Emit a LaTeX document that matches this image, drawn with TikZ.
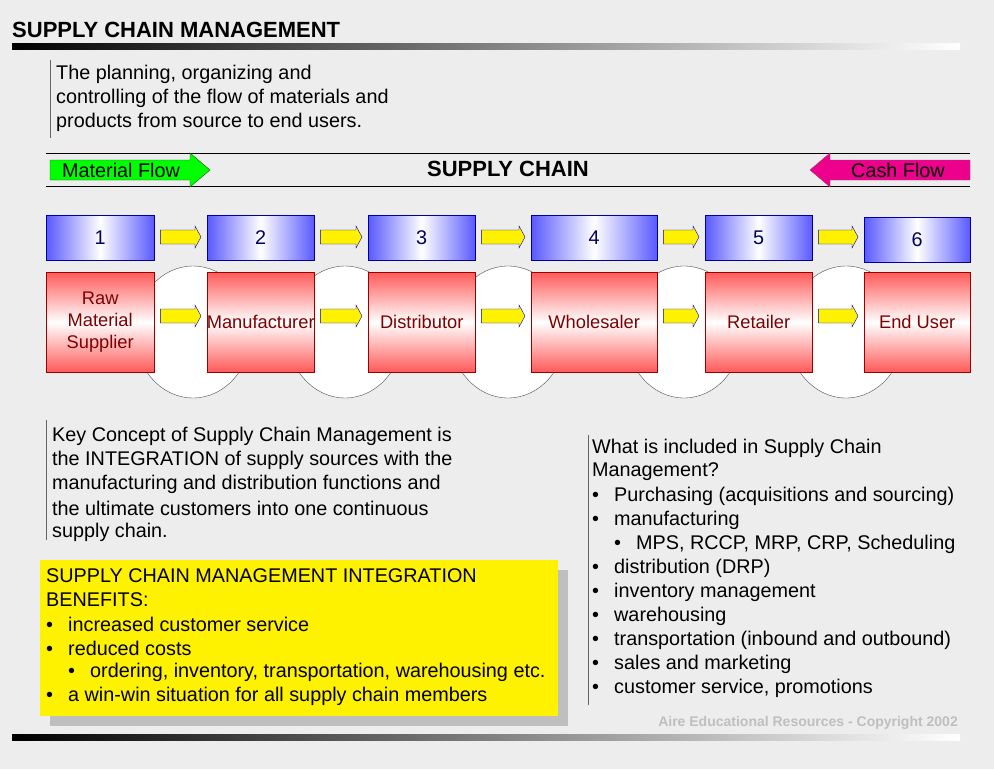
\documentclass[tikz,border=0pt]{standalone}
\usepackage{fontspec}
\setmainfont{Liberation Sans}
\usetikzlibrary{shadings}
\begin{document}
\begin{tikzpicture}[x=1pt,y=-1pt,
 txt/.style={anchor=west,inner sep=0pt,font=\fontsize{19.8}{22}\selectfont},
 blue box/.style={draw=blue!60!black,left color=blue!65,right color=blue!65,middle color=white,font=\fontsize{19.8}{22}\selectfont,text=blue!40!black},
 red box/.style={draw=red!60!black,top color=red!65,bottom color=red!65,middle color=white,font=\fontsize{18.3}{22}\selectfont,text=red!50!black,align=center},
 yarrow/.style={draw=blue!70!black,fill=yellow},
 ring/.style={draw=black!70,fill=white},
 bar/.style={left color=black,right color=white}]
\useasboundingbox (0,0) rectangle (994,769);
\fill[black!7] (0,0) rectangle (994,769);
\node[txt,font=\fontsize{22}{26}\selectfont\bfseries] (title) at (12,30) {SUPPLY CHAIN MANAGEMENT};
\shade[bar] (12,43) rectangle (960,49);
\draw[black!60] (50,60) -- (50,138);
\node[txt] (d1) at (56,74) {The planning, organizing and};
\node[txt] (d2) at (56,98) {controlling of the flow of materials and};
\node[txt] (d3) at (56,122) {products from source to end users.};
\draw (46,153) -- (970,153) (46,186) -- (970,186);
\draw[draw=green!40!black,fill=green] (50,160) -- (190,160) -- (190,153) -- (210,170) -- (190,187) -- (190,180) -- (50,180) -- cycle;
\node[txt] (mf) at (62,170) {Material Flow};
\draw[draw=magenta!50!black,fill=magenta] (970,160) -- (830,160) -- (830,153) -- (810,170) -- (830,187) -- (830,180) -- (970,180) -- cycle;
\node[txt] (cf) at (851,170) {Cash Flow};
\node[font=\fontsize{22}{26}\selectfont\bfseries] (sc) at (508,169) {SUPPLY CHAIN};
\foreach \c in {193,345,508,684,846}
  \draw[ring] (\c,332) ellipse (58 and 66);
\foreach \i/\l/\r/\t/\tp in {1/46/154/Raw\\Material\\Supplier/215,2/207/314/Manufacturer/215,3/368/475/Distributor/215,4/531/657/Wholesaler/215,5/705/812/Retailer/215,6/864/970/End User/217}{
  \node[blue box,minimum width=\r-\l,minimum height=45pt,anchor=north west,inner sep=0pt] (b\i) at (\l,\tp) {\i};
  \node[red box,minimum width=\r-\l,minimum height=100pt,anchor=north west,inner ysep=0pt,inner xsep=-6pt] (r\i) at (\l,272) {\t};
}
\foreach \a/\b in {1/2,2/3,3/4,4/5,5/6}{
  \foreach \n/\y in {b/237,r/316}{
    \path (\n\a.east) -- (\n\b.west) coordinate[pos=0] (s) coordinate[pos=1] (e);
    \draw[yarrow] ([xshift=6pt]s|-0,\y-7) -- ([xshift=-12pt]e|-0,\y-7) -- ([xshift=-12pt]e|-0,\y-11) -- ([xshift=-6pt]e|-0,\y) -- ([xshift=-12pt]e|-0,\y+11) -- ([xshift=-12pt]e|-0,\y+7) -- ([xshift=6pt]s|-0,\y+7) -- cycle;
  }
}
\draw[black!60] (46,420) -- (46,540);
\foreach \y/\t in {436/Key Concept of Supply Chain Management is,460/the INTEGRATION of supply sources with the,484/manufacturing and distribution functions and,508/the ultimate customers into one continuous,532/supply chain.}
  \node[txt] at (52,\y) {\t};
\fill[black!25] (50,570) rectangle (568,726);
\fill[yellow] (40,560) rectangle (558,716);
\node[txt] at (46,576) {SUPPLY CHAIN MANAGEMENT INTEGRATION};
\node[txt] at (46,600) {BENEFITS:};
\foreach \x/\y/\t in {46/624/increased customer service,46/648/reduced costs,68/672/{ordering, inventory, transportation, warehousing etc.},46/696/a win-win situation for all supply chain members}
  \node[txt] at (\x,\y) {\makebox[22pt][l]{•}\t};
\draw[black!60] (588,435) -- (588,705);
\node[txt] at (592,448) {What is included in Supply Chain};
\node[txt] at (592,472) {Management?};
\foreach \x/\y/\t in {592/496/Purchasing (acquisitions and sourcing),592/520/manufacturing,614/544/{MPS, RCCP, MRP, CRP, Scheduling},592/568/distribution (DRP),592/592/inventory management,592/616/warehousing,592/640/transportation (inbound and outbound),592/664/sales and marketing,592/688/{customer service, promotions}}
  \node[txt] at (\x,\y) {\makebox[22pt][l]{•}\t};
\node[anchor=east,inner sep=0pt,text=black!25,font=\fontsize{14}{16}\selectfont\bfseries] (cp) at (958,723) {Aire Educational Resources - Copyright 2002};
\shade[bar] (12,734) rectangle (960,740);
\end{tikzpicture}
\end{document}
